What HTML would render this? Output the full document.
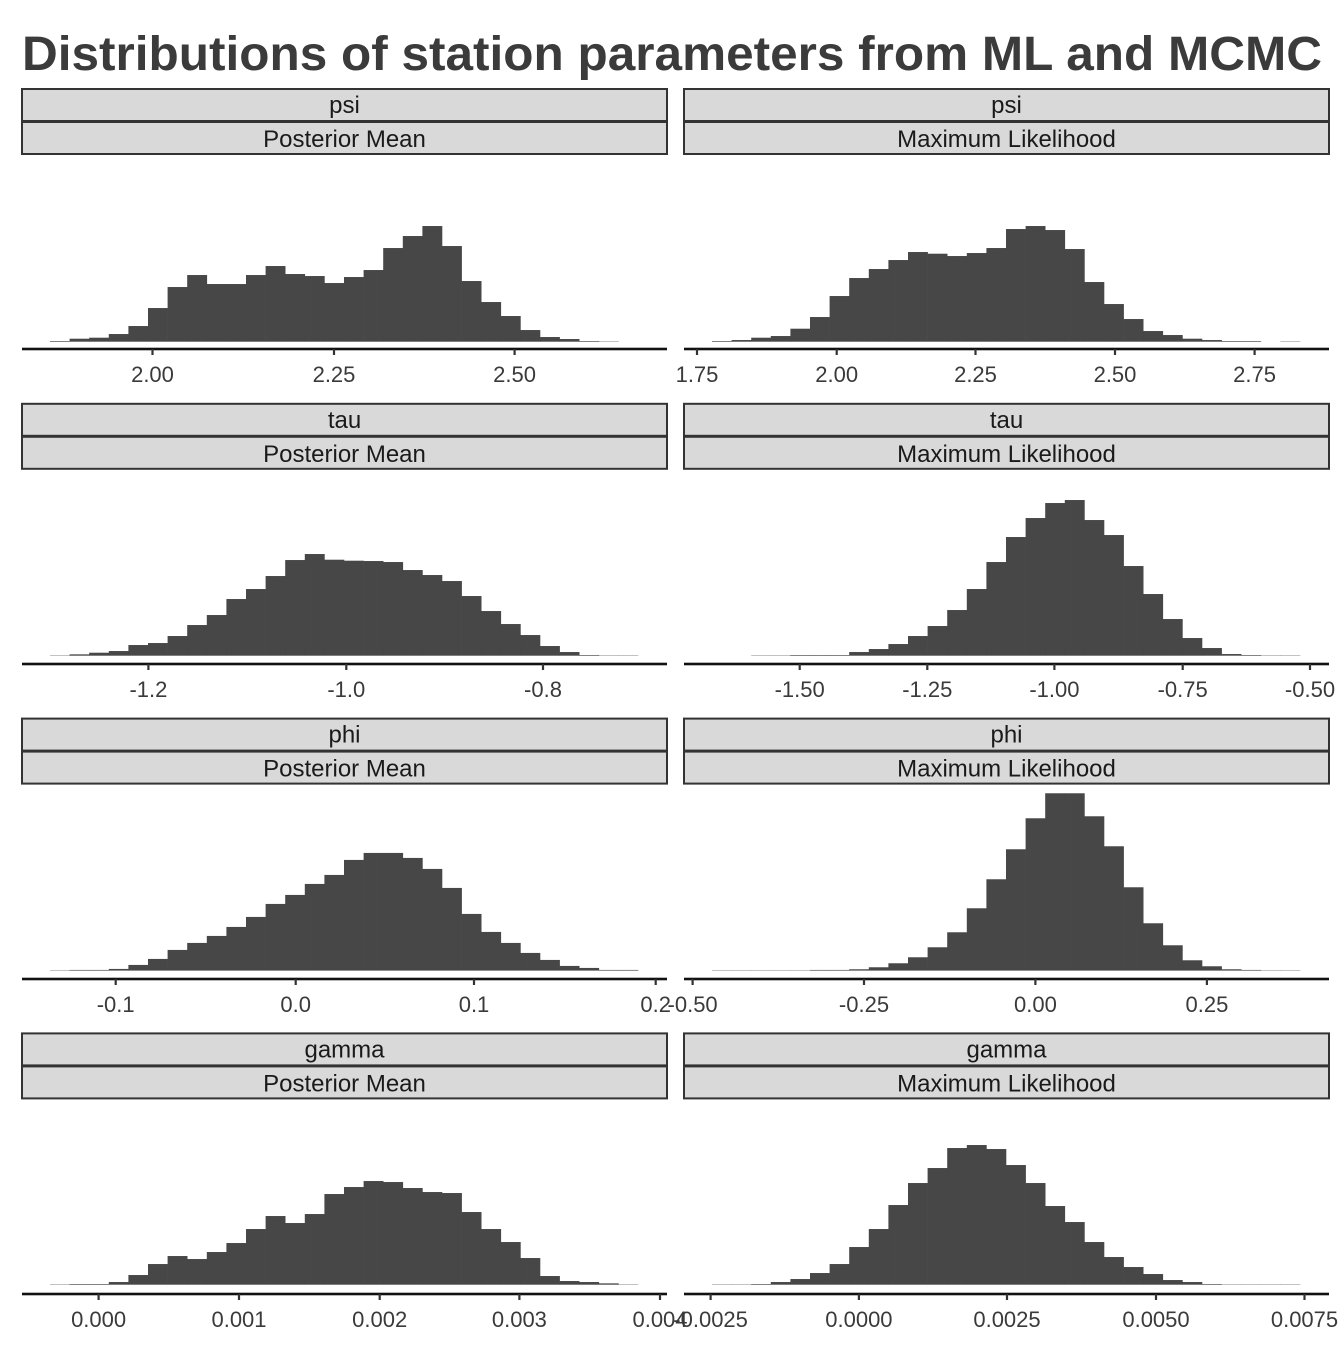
<!DOCTYPE html>
<html><head><meta charset="utf-8"><style>
html,body{margin:0;padding:0;background:#fff;}
svg text{font-family:"Liberation Sans",sans-serif;}
</style></head><body>
<svg id="s" width="1344" height="1344" xmlns="http://www.w3.org/2000/svg">
<text x="22" y="70" font-size="48" font-weight="bold" fill="#3b3b3b" textLength="1300" lengthAdjust="spacingAndGlyphs">Distributions of station parameters from ML and MCMC</text>
</svg>
<script>
var s=document.getElementById('s');var h='';
var params=['psi','tau','phi','gamma'];
var axisY=[349,664,979,1294];
var baseY=[341.7,655.7,970.6,1284.7];
var data=[
 [395,[393,386,383,372,348,294,231,195,222,222,195,168,192,198,219,201,180,114,78,48,108,213,276,318,360,381,387,393,394,395]],
 [395,[393,390,383,378,356,321,258,204,177,150,126,131,138,129,114,57,48,60,117,216,282,327,363,375,386,390,393,393,395,394]],
 [392,[391,388,383,378,360,354,333,300,270,222,192,153,105,87,104,107,108,111,135,150,168,213,258,297,330,363,381,390,391,391]],
 [512,[512,512,511,511,510,510,510,501,492,477,453,423,375,312,231,156,99,54,45,105,150,243,327,402,459,489,507,510,511,511]],
 [512,[511,510,510,507,495,477,450,429,408,381,351,312,285,252,225,180,159,159,174,207,264,342,396,429,459,480,498,504,510,510]],
 [556,[555,555,555,555,555,554,554,552,546,534,516,486,441,369,282,192,99,24,24,93,183,306,414,480,525,543,552,554,555,555]],
 [479,[478,477,477,471,450,417,393,402,381,354,312,273,294,267,207,186,168,171,189,201,204,261,312,351,399,453,468,471,475,478]],
 [479,[478,478,477,471,462,444,417,366,312,240,174,129,69,60,72,120,174,243,291,351,396,426,447,465,471,477,478,478,478,478]]
];
var ticks=[
 [[152.5,'2.00'],[334,'2.25'],[514.6,'2.50']],
 [[697,'1.75'],[836.7,'2.00'],[975.5,'2.25'],[1115,'2.50'],[1254.6,'2.75']],
 [[148.4,'-1.2'],[346.3,'-1.0'],[543,'-0.8']],
 [[799.7,'-1.50'],[927.3,'-1.25'],[1054.4,'-1.00'],[1182.7,'-0.75'],[1310,'-0.50']],
 [[115.7,'-0.1'],[295.7,'0.0'],[474,'0.1'],[655.7,'0.2']],
 [[692.6,'-0.50'],[864,'-0.25'],[1035.4,'0.00'],[1206.9,'0.25']],
 [[98.6,'0.000'],[239,'0.001'],[379.7,'0.002'],[519.4,'0.003'],[660,'0.004']],
 [[710.6,'-0.0025'],[858.9,'0.0000'],[1007,'0.0025'],[1156,'0.0050'],[1304.5,'0.0075']]
];
for(var r=0;r<4;r++){
 var off=314.8*r;
 for(var c=0;c<2;c++){
  var x0=c?684:22, w=645, idx=r*2+c;
  h+='<rect x="'+x0+'" y="'+(89+off)+'" width="'+w+'" height="32" fill="#d9d9d9" stroke="#333" stroke-width="2"/>';
  h+='<rect x="'+x0+'" y="'+(122+off)+'" width="'+w+'" height="32" fill="#d9d9d9" stroke="#333" stroke-width="2"/>';
  h+='<text x="'+(x0+w/2)+'" y="'+(113+off)+'" font-size="24" fill="#1a1a1a" text-anchor="middle">'+params[r]+'</text>';
  h+='<text x="'+(x0+w/2)+'" y="'+(147+off)+'" font-size="24" fill="#1a1a1a" text-anchor="middle">'+(c?'Maximum Likelihood':'Posterior Mean')+'</text>';
  var d=data[idx],b=d[0],tops=d[1],bx=c?712:50,bw=588/30;
  for(var i=0;i<30;i++){var hh=(b-tops[i])/3;if(hh<=0.2)continue;
   h+='<rect x="'+(bx+i*bw).toFixed(2)+'" y="'+(baseY[r]-hh).toFixed(2)+'" width="'+(bw+0.3).toFixed(2)+'" height="'+hh.toFixed(2)+'" fill="#474747"/>';}
  h+='<rect x="'+x0+'" y="'+(axisY[r]-1.3)+'" width="'+w+'" height="2.6" fill="#111"/>';
  ticks[idx].forEach(function(t){
   h+='<rect x="'+(t[0]-1.1)+'" y="'+axisY[r]+'" width="2.2" height="6" fill="#333"/>';
   h+='<text x="'+t[0]+'" y="'+(axisY[r]+33)+'" font-size="22" fill="#3a3a3a" text-anchor="middle">'+t[1]+'</text>';
  });
 }
}
s.insertAdjacentHTML('beforeend',h);
</script>
</body></html>
